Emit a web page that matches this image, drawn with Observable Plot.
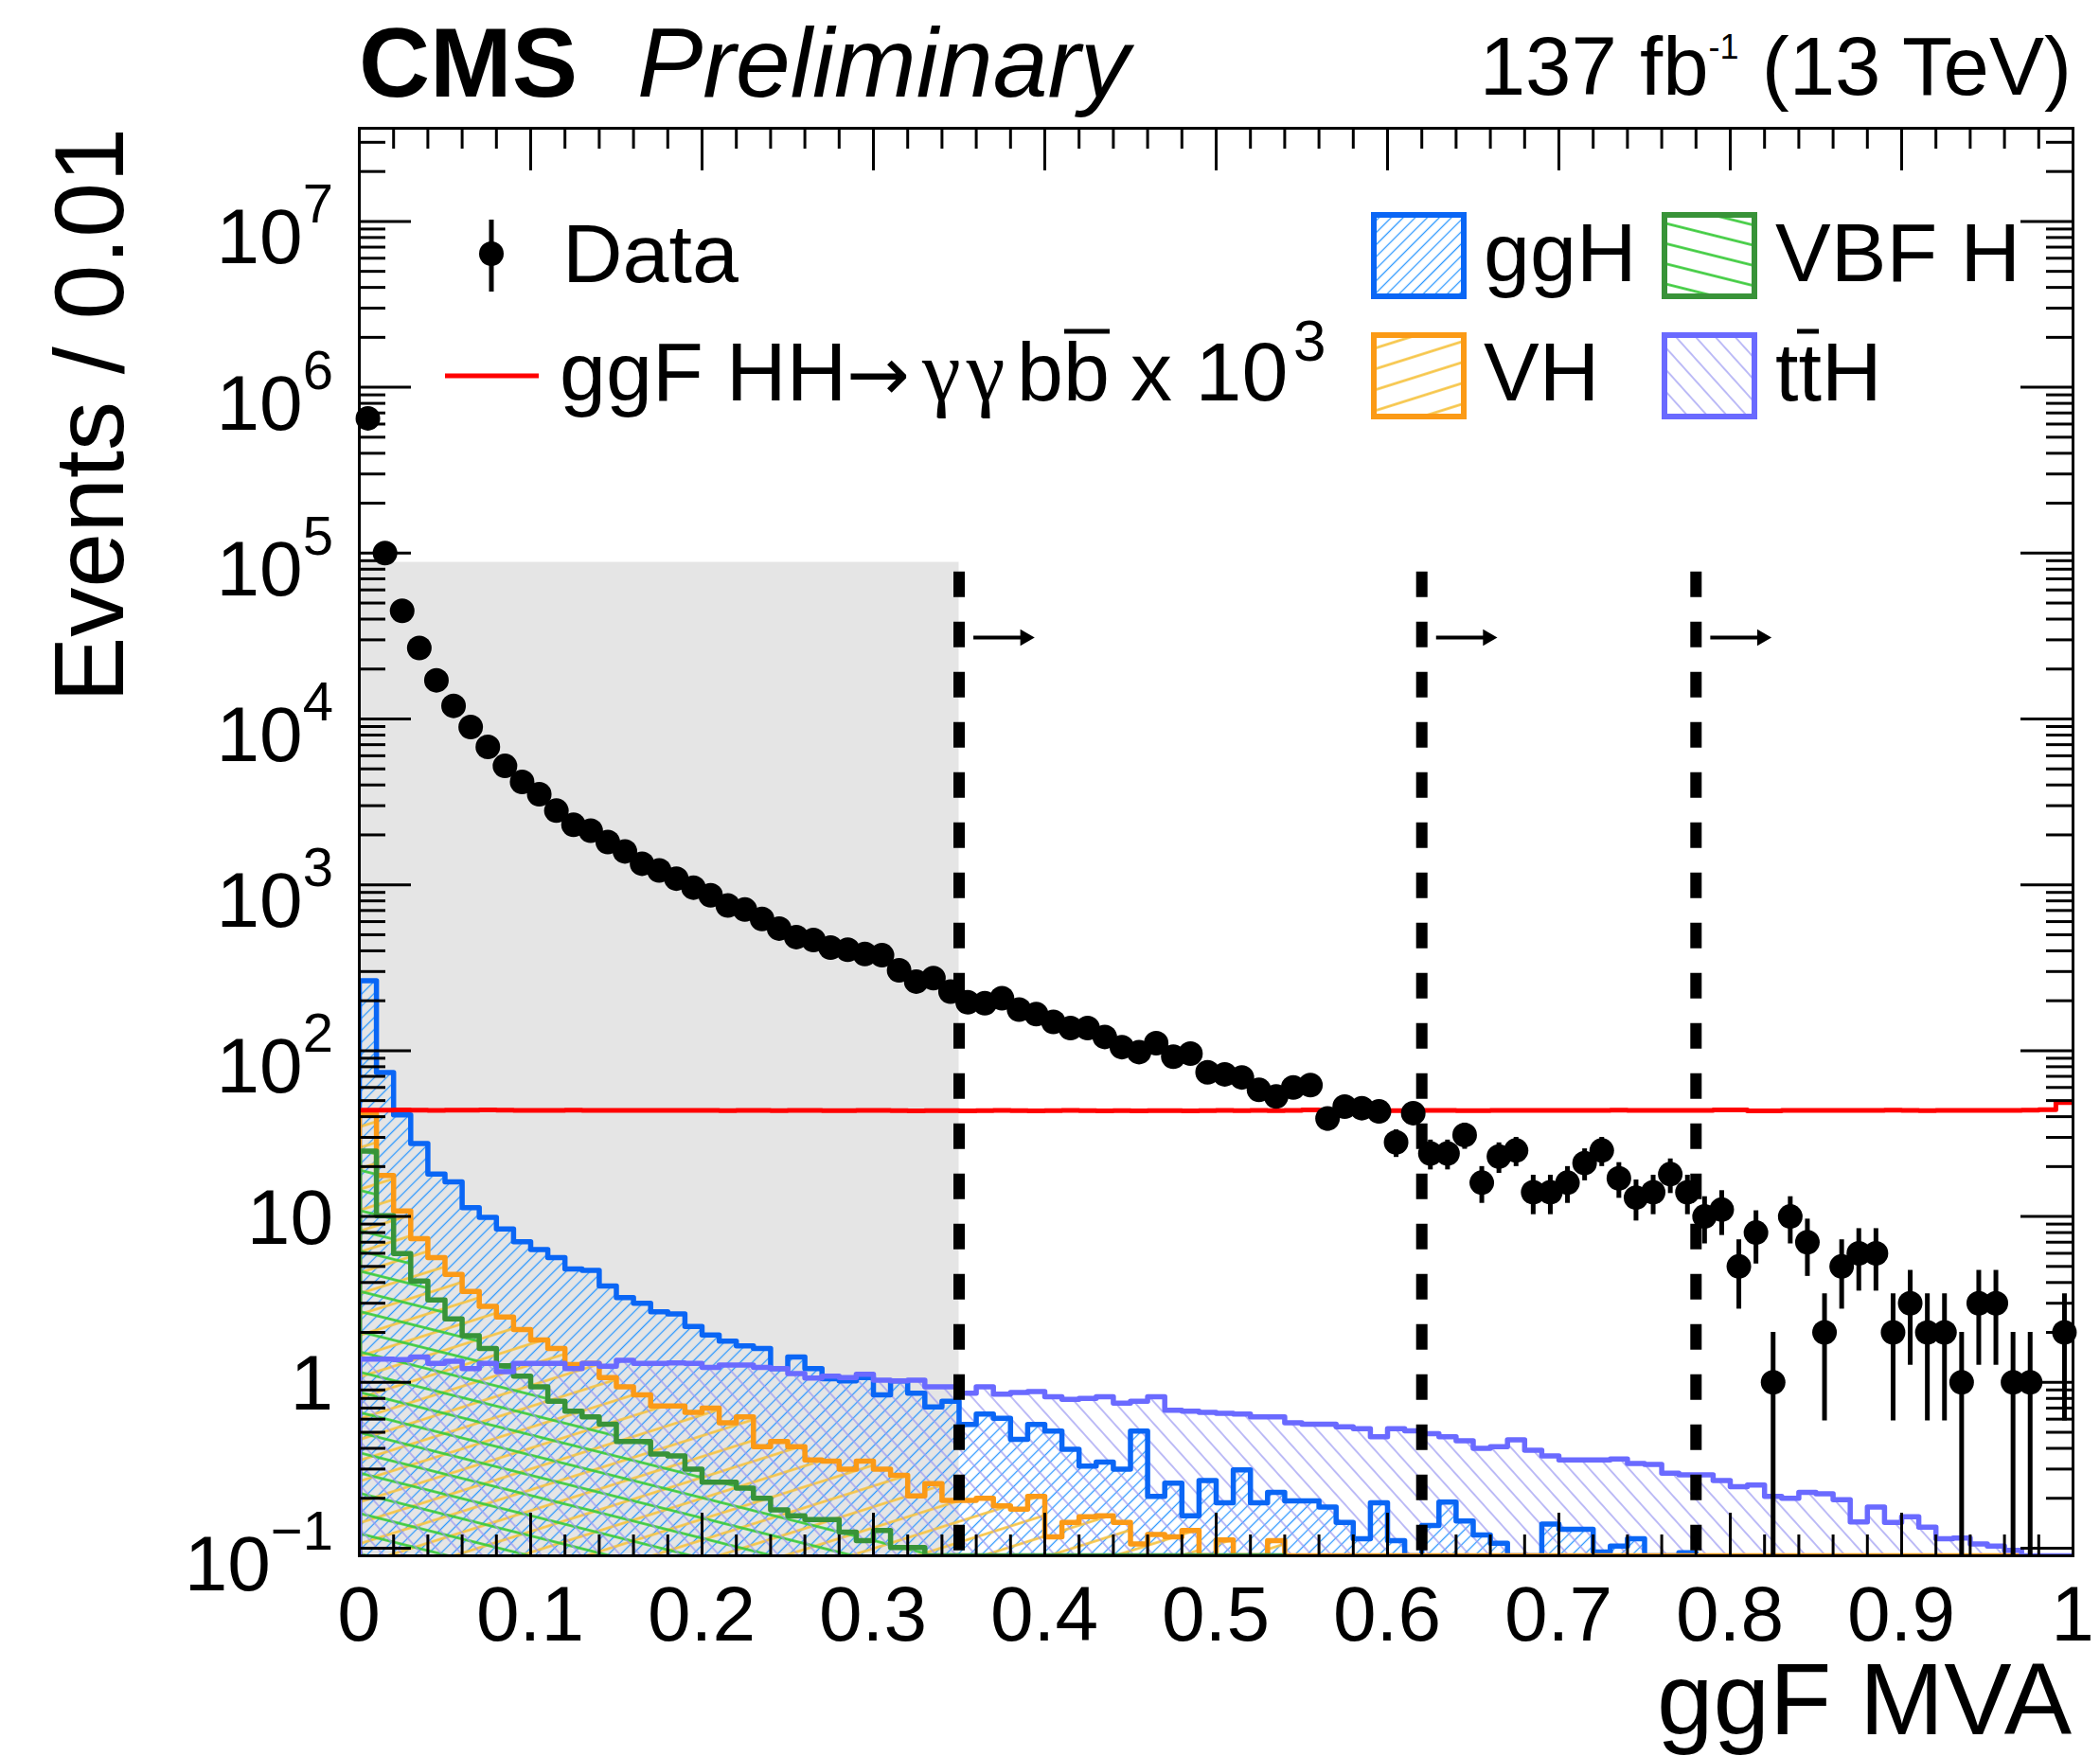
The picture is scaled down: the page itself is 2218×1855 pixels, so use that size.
<!DOCTYPE html>
<html><head><meta charset="utf-8">
<script src="https://cdn.jsdelivr.net/npm/d3@7"></script>
<script src="https://cdn.jsdelivr.net/npm/@observablehq/plot@0.6"></script>
<style>
html,body{margin:0;padding:0;background:#fff;}
#chart svg{display:block;}
</style></head><body><div id="chart"></div>
<script>
// ---------------- data ----------------
const binWidth = 0.01;
const dataCounts = [650000, 100000, 44900, 26800, 17100, 12000, 8940, 6790, 5210, 4170,
  3520, 2800, 2300, 2120, 1810, 1590, 1340, 1220, 1090, 962,
  865, 751, 709, 623, 545, 484, 465, 418, 406, 383,
  376, 305, 261, 274, 227, 196, 193, 207, 177, 166,
  149, 137, 137, 121, 105, 98, 111, 92, 96, 74,
  72, 69, 58, 53, 60, 62, 39, 46, 45, 43,
  28, 42, 24, 24, 31, 16, 23, 25, 14, 14,
  16, 21, 25, 17, 13, 14, 18, 14, 10, 11,
  5, 8, 1, 10, 7, 2, 5, 6, 6, 2,
  3, 2, 2, 1, 3, 3, 1, 1, 0, 2];
const ggH = [264, 73.9, 41, 27.5, 18.0, 16.2, 11.3, 9.87, 8.41, 7.05,
  6.31, 5.65, 4.82, 4.73, 3.81, 3.24, 3.0, 2.66, 2.59, 2.17,
  1.93, 1.77, 1.66, 1.60, 1.21, 1.42, 1.21, 1.05, 1.02, 1.07,
  0.84, 1.02, 0.86, 0.71, 0.77, 0.557, 0.644, 0.607, 0.453, 0.557,
  0.509, 0.395, 0.313, 0.331, 0.30, 0.509, 0.205, 0.247, 0.157, 0.256,
  0.188, 0.297, 0.188, 0.217, 0.193, 0.193, 0.177, 0.143, 0.114, 0.188,
  0.111, 0, 0.137, 0.19, 0.146, 0.12, 0.107, 0, 0, 0.14,
  0.13, 0.13, 0.095, 0.103, 0.114, 0, 0, 0.094];
const VH = [42, 17.7, 10.8, 7.35, 5.65, 4.47, 3.53, 2.87, 2.48, 2.08,
  1.80, 1.60, 1.28, 1.30, 1.07, 0.94, 0.84, 0.72, 0.72, 0.66,
  0.70, 0.57, 0.62, 0.41, 0.44, 0.41, 0.34, 0.335, 0.30, 0.335,
  0.30, 0.275, 0.207, 0.245, 0.194, 0.194, 0.2, 0.18, 0.172, 0.205,
  0.117, 0.143, 0.155, 0.157, 0.143, 0.106, 0.121, 0.117, 0.128, 0,
  0.112, 0, 0, 0.111, 0, 0, 0, 0, 0, 0,
  0, 0, 0, 0, 0, 0, 0, 0, 0, 0,
  0, 0, 0, 0, 0, 0, 0, 0, 0, 0,
  0, 0, 0, 0, 0, 0, 0, 0, 0, 0,
  0, 0, 0, 0, 0, 0, 0];
const VBF = [24.8, 10.1, 5.98, 4.08, 3.14, 2.41, 1.91, 1.60, 1.26, 1.09,
  0.94, 0.77, 0.67, 0.62, 0.56, 0.44, 0.44, 0.37, 0.36, 0.30,
  0.25, 0.25, 0.23, 0.20, 0.17, 0.157, 0.149, 0.149, 0.125, 0.111,
  0.128, 0.101, 0.101, 0, 0, 0, 0, 0, 0, 0,
  0, 0, 0, 0, 0, 0, 0, 0, 0, 0,
  0, 0, 0, 0];
const ttH = [1.38, 1.38, 1.37, 1.42, 1.30, 1.34, 1.21, 1.30, 1.16, 1.30,
  1.30, 1.30, 1.21, 1.30, 1.25, 1.36, 1.30, 1.30, 1.31, 1.30,
  1.23, 1.27, 1.27, 1.23, 1.21, 1.13, 1.06, 1.09, 1.07, 1.12,
  1.03, 1.02, 1.03, 0.94, 0.94, 0.86, 0.94, 0.85, 0.87, 0.88,
  0.82, 0.79, 0.80, 0.82, 0.75, 0.77, 0.82, 0.68, 0.67, 0.66,
  0.65, 0.645, 0.62, 0.62, 0.57, 0.56, 0.56, 0.54, 0.525, 0.47,
  0.525, 0.51, 0.49, 0.47, 0.445, 0.40, 0.41, 0.45, 0.39, 0.36,
  0.34, 0.34, 0.34, 0.345, 0.324, 0.32, 0.283, 0.277, 0.277, 0.256,
  0.235, 0.24, 0.205, 0.2, 0.217, 0.213, 0.196, 0.144, 0.177, 0.143,
  0.155, 0.134, 0.114, 0.115, 0.106, 0.103, 0.097, 0, 0, 0];
const signalHH = [43.8, 43.8, 43.9, 43.8, 43.7, 43.8, 43.8, 43.9, 43.8, 43.7,
  43.6, 43.7, 43.8, 43.7, 43.6, 43.6, 43.7, 43.6, 43.6, 43.7,
  43.6, 43.5, 43.6, 43.6, 43.5, 43.6, 43.6, 43.5, 43.5, 43.6,
  43.6, 43.5, 43.4, 43.5, 43.5, 43.4, 43.5, 43.6, 43.5, 43.4,
  43.5, 43.6, 43.5, 43.4, 43.5, 43.4, 43.5, 43.5, 43.4, 43.5,
  43.6, 43.5, 43.6, 43.5, 43.7, 43.9, 43.8, 43.7, 43.7, 43.6,
  43.5, 43.6, 43.7, 43.6, 43.5, 43.5, 43.6, 43.7, 43.6, 43.7,
  43.7, 43.6, 43.7, 43.8, 43.7, 43.6, 43.7, 43.7, 43.6, 43.9,
  43.9, 43.3, 43.4, 43.7, 43.7, 43.6, 43.6, 43.6, 43.7, 43.8,
  43.7, 43.5, 43.6, 43.6, 43.6, 43.7, 43.7, 43.8, 44.0, 48.6];
const categoryCuts = [0.35, 0.62, 0.78];
const cutLineTop = 7.7e4;
const arrowLevel = 3.1e4;
const greyBoxTop = 8.8e4;

// tick labels
const xTickValues = [0, 0.1, 0.2, 0.3, 0.4, 0.5, 0.6, 0.7, 0.8, 0.9, 1];
const xTickLabels = ["0", "0.1", "0.2", "0.3", "0.4", "0.5", "0.6", "0.7", "0.8", "0.9", "1"];
const yTickValues = [0.1, 1, 10, 100, 1e3, 1e4, 1e5, 1e6, 1e7];
const yTickBase = ["10", "1", "10", "10", "10", "10", "10", "10", "10"];
const yTickExp = ["\u22121", "", "", "2", "3", "4", "5", "6", "7"];

// texts
const headerCMS = "CMS";
const headerExtra = "Preliminary";
const lumiMain = "137 fb", lumiSup = "-1", lumiTail = " (13 TeV)";
const yTitle = "Events / 0.01";
const xTitle = "ggF MVA";
const legendData = "Data";
const legendProcs = ["ggH", "VBF H", "VH", "ttH"];

// ---------------- layout / style ----------------
const W = 2218, H = 1855, mL = 379, mR = 29, mT = 135, mB = 212;
const frameW = W - mL - mR, frameH = H - mT - mB;
const yMin = 0.09, yMax = 3.645e7;
const FONT = "'Liberation Sans', Arial, Helvetica, sans-serif";
const colors = {
  ggH: {line: "#0a66f5", hatch: "#2c98ff"},
  VH: {line: "#fb9a16", hatch: "#f6c445"},
  VBF: {line: "#389338", hatch: "#3ccb3c"},
  ttH: {line: "#6a6aff", hatch: "#9a98f2"}
};

const clampY = v => (v == null || !(v > yMin)) ? yMin : v;
function stepPoints(arr, fromFloor) {
  const pts = fromFloor ? [{x: 0, y: yMin}] : [];
  arr.forEach((v, i) => pts.push({x: i * binWidth, y: clampY(v)}));
  pts.push({x: arr.length * binWidth, y: clampY(arr[arr.length - 1])});
  return pts;
}
const hists = [
  {key: "ggH", arr: ggH},
  {key: "VH", arr: VH},
  {key: "VBF", arr: VBF},
  {key: "ttH", arr: ttH}
];
const dataPts = dataCounts.map((c, i) => ({x: (i + 0.5) * binWidth, y: c})).filter(d => d.y > 0);

// ticks
const yMinor = [];
for (let k = -2; k <= 7; k++) for (let m = 2; m <= 9; m++) { const v = m * Math.pow(10, k); if (v > yMin && v < yMax) yMinor.push(v); }
const xMinor = d3.range(0, 51).map(i => i / 50).filter(v => !xTickValues.some(t => Math.abs(t - v) < 1e-9));

const marks = [];
marks.push(Plot.rect([0], {x1: 0, x2: categoryCuts[0], y1: yMin, y2: greyBoxTop, fill: "#e5e5e5"}));
for (const h of hists) {
  marks.push(Plot.areaY(stepPoints(h.arr, true), {x: "x", y1: yMin, y2: "y", curve: "step-after", fill: `url(#hatch-${h.key})`, clip: true}));
}
for (const h of hists) {
  marks.push(Plot.line(stepPoints(h.arr, true), {x: "x", y: "y", curve: "step-after", stroke: colors[h.key].line, strokeWidth: 5.5, clip: true}));
}
marks.push(Plot.line(stepPoints(signalHH, false), {x: "x", y: "y", curve: "step-after", stroke: "#ff0000", strokeWidth: 5, clip: true}));
marks.push(Plot.ruleX(categoryCuts, {x: d => d, y1: cutLineTop, y2: yMin, stroke: "black", strokeWidth: 12, strokeDasharray: "27,26"}));
marks.push(Plot.ruleY(categoryCuts, {y: arrowLevel, x1: d => d + 0.0086, x2: d => d + 0.040, stroke: "black", strokeWidth: 4}));
marks.push(Plot.dot(categoryCuts, {x: d => d + 0.0385, y: arrowLevel, symbol: "triangle", r: 6.5, rotate: 90, fill: "black", stroke: "none"}));
marks.push(Plot.ruleX(dataPts, {x: "x", y1: d => Math.max(d.y - Math.sqrt(d.y), yMin), y2: d => d.y + Math.sqrt(d.y), stroke: "black", strokeWidth: 5, clip: true}));
marks.push(Plot.dot(dataPts, {x: "x", y: "y", r: 13, fill: "black", stroke: "none"}));
// axis ticks (inside the frame, on all four sides)
marks.push(Plot.tickY(yTickValues, {y: d => d, insetRight: frameW - 55, stroke: "black", strokeWidth: 3}));
marks.push(Plot.tickY(yMinor, {y: d => d, insetRight: frameW - 28, stroke: "black", strokeWidth: 3}));
marks.push(Plot.tickY(yTickValues, {y: d => d, insetLeft: frameW - 55, stroke: "black", strokeWidth: 3}));
marks.push(Plot.tickY(yMinor, {y: d => d, insetLeft: frameW - 28, stroke: "black", strokeWidth: 3}));
marks.push(Plot.tickX(xTickValues, {x: d => d, insetTop: frameH - 45, stroke: "black", strokeWidth: 3}));
marks.push(Plot.tickX(xMinor, {x: d => d, insetTop: frameH - 22, stroke: "black", strokeWidth: 3}));
marks.push(Plot.tickX(xTickValues, {x: d => d, insetBottom: frameH - 45, stroke: "black", strokeWidth: 3}));
marks.push(Plot.tickX(xMinor, {x: d => d, insetBottom: frameH - 22, stroke: "black", strokeWidth: 3}));
marks.push(Plot.frame({stroke: "black", strokeWidth: 3}));

const svg = Plot.plot({
  width: W, height: H,
  marginLeft: mL, marginRight: mR, marginTop: mT, marginBottom: mB,
  x: {domain: [0, 1], axis: null},
  y: {type: "log", domain: [yMin, yMax], axis: null},
  style: {background: "white", fontFamily: FONT},
  marks
});
document.getElementById("chart").appendChild(svg);

const sx = svg.scale("x"), sy = svg.scale("y");
const S = d3.select(svg);

// hatch patterns
const defs = S.insert("defs", ":first-child");
function hatch(id, angle, spacing, color, width) {
  defs.append("pattern").attr("id", id).attr("patternUnits", "userSpaceOnUse")
    .attr("width", spacing).attr("height", spacing).attr("patternTransform", `rotate(${angle})`)
    .append("line").attr("x1", spacing / 2).attr("y1", -1).attr("x2", spacing / 2).attr("y2", spacing + 1)
    .attr("stroke", color).attr("stroke-width", width);
}
hatch("hatch-ggH", 45, 9, colors.ggH.hatch, 1.3);
hatch("hatch-VH", 72.5, 21, colors.VH.hatch, 2.6);
hatch("hatch-VBF", 104, 20.7, colors.VBF.hatch, 2.6);
hatch("hatch-ttH", 138, 15.5, colors.ttH.hatch, 1.3);

const ann = S.append("g").attr("font-family", FONT).attr("fill", "black").attr("text-anchor", "start");

// header
ann.append("text").attr("x", 379).attr("y", 102).attr("font-size", 104).attr("font-weight", "bold").text(headerCMS);
ann.append("text").attr("x", 673).attr("y", 102).attr("font-size", 104).attr("font-style", "italic").text(headerExtra);
const lumi = ann.append("text").attr("x", 2188).attr("y", 100).attr("font-size", 87).attr("text-anchor", "end");
lumi.append("tspan").text(lumiMain);
lumi.append("tspan").attr("font-size", 36).attr("dy", -38).text(lumiSup);
lumi.append("tspan").attr("dy", 38).text(lumiTail);

// axis titles
ann.append("text").attr("transform", "translate(130,135) rotate(-90)").attr("text-anchor", "end").attr("font-size", 104).text(yTitle);
ann.append("text").attr("x", 2188).attr("y", 1832).attr("text-anchor", "end").attr("font-size", 107).text(xTitle);

// tick labels
xTickValues.forEach((v, i) => {
  ann.append("text").attr("x", sx.apply(v)).attr("y", 1733).attr("text-anchor", "middle").attr("font-size", 82).text(xTickLabels[i]);
});
yTickValues.forEach((v, i) => {
  const y = sy.apply(v);
  const t = ann.append("text").attr("x", 352).attr("text-anchor", "end").attr("font-size", 82);
  if (yTickExp[i]) {
    t.attr("y", y + 45);
    t.append("tspan").text(yTickBase[i]);
    t.append("tspan").attr("font-size", 58).attr("dy", -43).text(yTickExp[i]);
  } else {
    t.attr("y", y + 29).text(yTickBase[i]);
  }
});

// legend
const LF = 88;
ann.append("line").attr("x1", 519).attr("x2", 519).attr("y1", 232).attr("y2", 308).attr("stroke", "black").attr("stroke-width", 5);
ann.append("circle").attr("cx", 519).attr("cy", 268).attr("r", 13);
ann.append("text").attr("x", 594).attr("y", 298).attr("font-size", LF).text(legendData);
ann.append("line").attr("x1", 470).attr("x2", 569).attr("y1", 397).attr("y2", 397).attr("stroke", "#ff0000").attr("stroke-width", 5);
const sig = ann.append("g").attr("font-size", LF);
sig.append("text").attr("x", 591).attr("y", 423).text("ggF HH");
sig.append("text").attr("x", 894).attr("y", 423).attr("font-family", "'DejaVu Sans', sans-serif").attr("font-size", 80).text("\u2192");
sig.append("text").attr("x", 974).attr("y", 423).attr("font-family", "'Liberation Serif', 'Times New Roman', serif").attr("font-size", 92).attr("letter-spacing", 6).text("\u03b3\u03b3");
sig.append("text").attr("x", 1074).attr("y", 423).text("bb");
sig.append("line").attr("x1", 1124).attr("x2", 1172).attr("y1", 350).attr("y2", 350).attr("stroke", "black").attr("stroke-width", 5);
sig.append("text").attr("x", 1194).attr("y", 423).text("x 10");
sig.append("text").attr("x", 1366).attr("y", 381).attr("font-size", 62).text("3");

const boxes = [
  {key: "ggH", x: 1448, y: 224, label: legendProcs[0], tx: 1567, ty: 297},
  {key: "VBF", x: 1755, y: 224, label: legendProcs[1], tx: 1875, ty: 297},
  {key: "VH", x: 1448, y: 351, label: legendProcs[2], tx: 1567, ty: 423},
  {key: "ttH", x: 1755, y: 351, label: legendProcs[3], tx: 1875, ty: 423}
];
for (const b of boxes) {
  ann.append("rect").attr("x", b.x + 3).attr("y", b.y + 3).attr("width", 95).attr("height", 86)
    .attr("fill", `url(#hatch-${b.key})`).attr("stroke", colors[b.key].line).attr("stroke-width", 6);
  ann.append("text").attr("x", b.tx).attr("y", b.ty).attr("font-size", LF).text(b.label);
}
// bar over the second t of ttH
ann.append("line").attr("x1", 1898).attr("x2", 1921).attr("y1", 350).attr("y2", 350).attr("stroke", "black").attr("stroke-width", 5);
</script></body></html>
